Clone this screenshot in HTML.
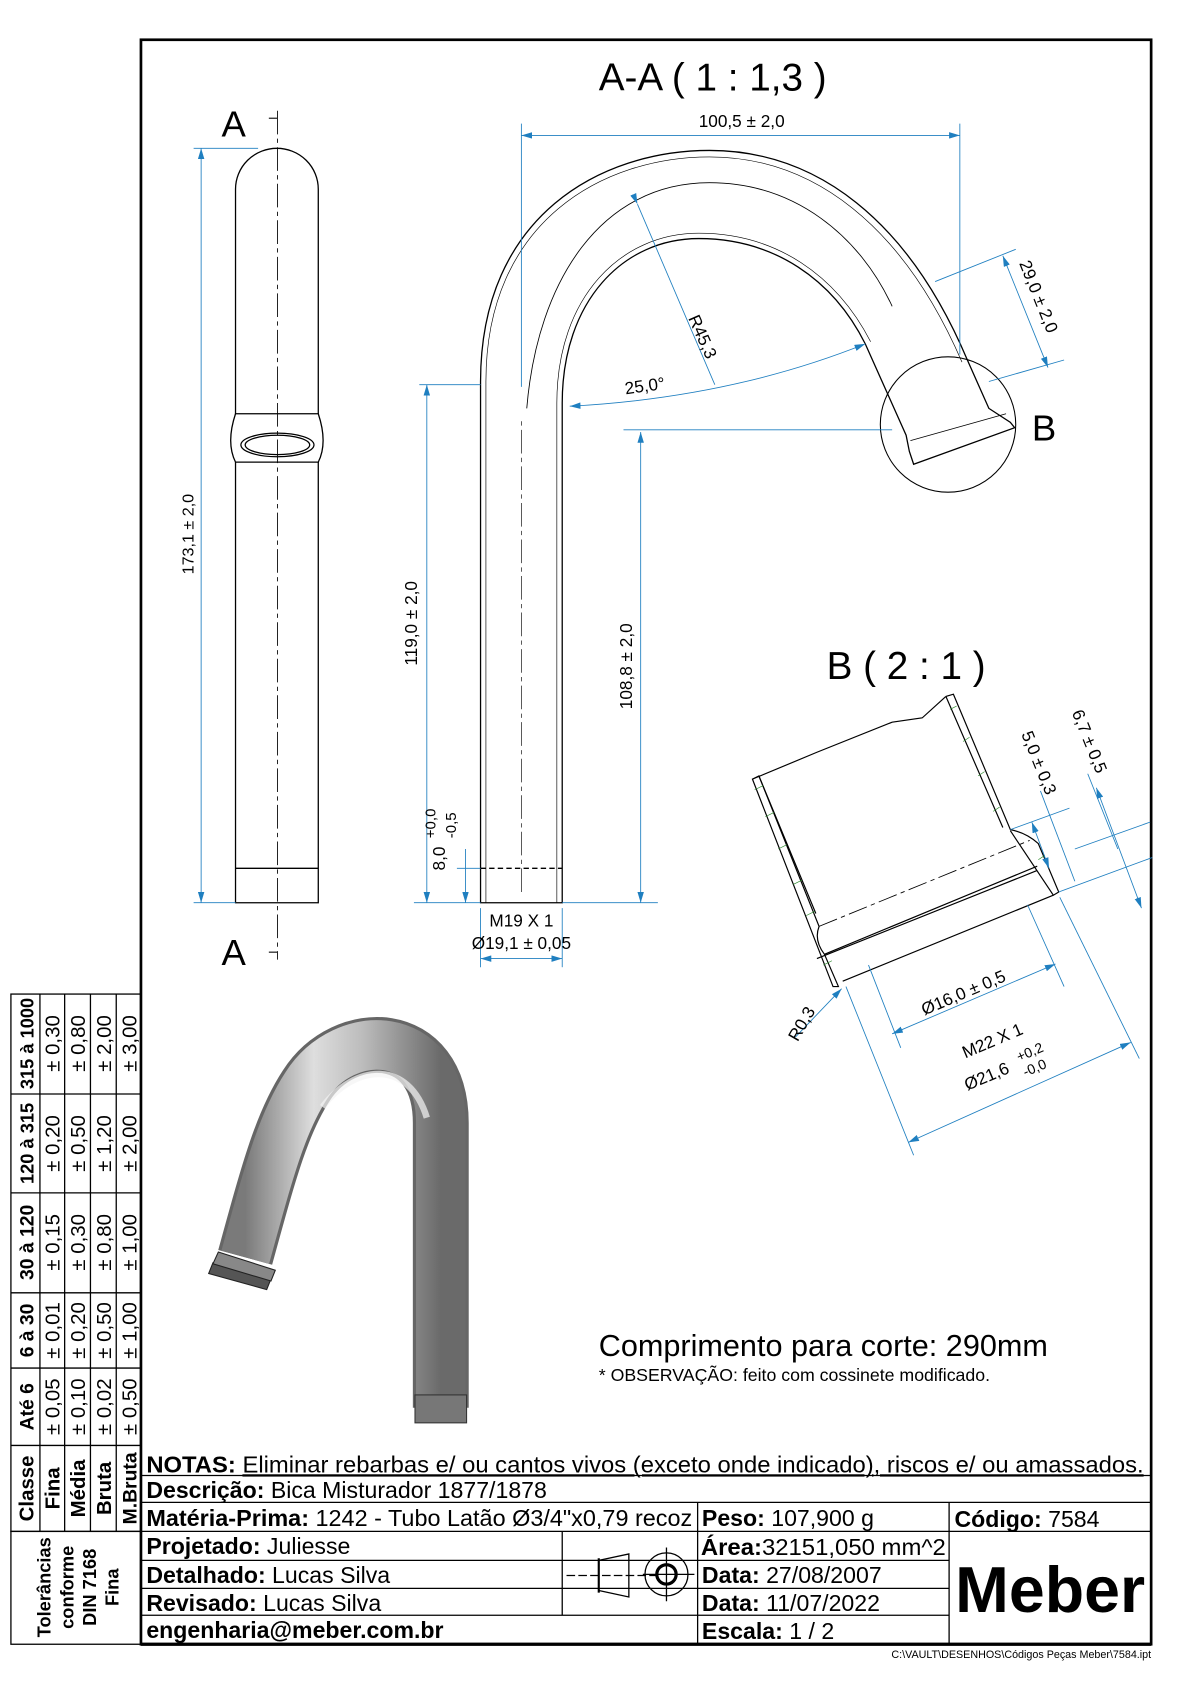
<!DOCTYPE html>
<html><head><meta charset="utf-8"><style>
html,body{margin:0;padding:0;background:#fff}
svg{display:block}
text{font-family:"Liberation Sans",Arial,sans-serif}
.b{font-weight:bold}
</style></head><body>
<svg width="1190" height="1684" viewBox="0 0 1107 1567" xmlns="http://www.w3.org/2000/svg">
<defs>
<linearGradient id="tg" x1="0" x2="1" y1="0" y2="0">
<stop offset="0" stop-color="#7a7a7a"/><stop offset="0.35" stop-color="#dedede"/><stop offset="0.6" stop-color="#bcbcbc"/><stop offset="1" stop-color="#6a6a6a"/>
</linearGradient>
<marker id="ar" markerWidth="10" markerHeight="6" refX="10" refY="3" orient="auto" markerUnits="userSpaceOnUse"><path d="M0,0 L10,3 L0,6z" fill="#1f7fc0"/></marker>
<marker id="al" markerWidth="10" markerHeight="6" refX="0" refY="3" orient="auto" markerUnits="userSpaceOnUse"><path d="M10,0 L0,3 L10,6z" fill="#1f7fc0"/></marker>
</defs>
<rect x="131" y="37" width="940" height="1493" fill="none" stroke="#000" stroke-width="2.5"/>

<g fill="none" stroke="#000" stroke-width="1.2">
<path d="M219,840 L219,176 A38.5,38 0 0 1 296,176 L296,840 Z"/>
<line x1="219" y1="808" x2="296" y2="808"/>
<path d="M219,385 Q210,412 219,430 L296,430 Q305,412 296,385 Z" fill="#fff"/>
<ellipse cx="258" cy="414" rx="34" ry="11"/>
<ellipse cx="258" cy="414" rx="30" ry="9"/>
</g>
<line x1="258" y1="103" x2="258" y2="893" stroke="#000" stroke-width="0.8" stroke-dasharray="22,4,4,4"/>
<line x1="258" y1="110" x2="250" y2="110" stroke="#000"/><line x1="258" y1="886" x2="250" y2="886" stroke="#000"/>
<text x="206" y="127" font-size="34">A</text><text x="206" y="898" font-size="34">A</text>
<g stroke="#1f7fc0" stroke-width="0.8" fill="none">
<line x1="187" y1="138" x2="187" y2="840" marker-start="url(#al)" marker-end="url(#ar)"/>
<line x1="180" y1="138" x2="240" y2="138"/><line x1="180" y1="840" x2="219" y2="840"/>
</g>
<text transform="translate(180,497) rotate(-90)" font-size="15" text-anchor="middle">173,1 ± 2,0</text>

<text x="663" y="84" font-size="36" text-anchor="middle">A-A ( 1 : 1,3 )</text>
<g fill="none" stroke="#000" stroke-width="1.2">
<path d="M447,840 L447,355 C447,200 560,140 660,140 C760,140 845,205 900,335 L920,380 L940,393 L944,398 L850,432 L846,420 L843,405 L805,320 C775,260 720,222 650,222 C580,222 523,280 523,375 L523,840 Z"/>
<path d="M452,840 L452,355 C452,205 562,146 660,146 C757,146 840,210 895,337" stroke-width="0.6"/>
<path d="M518,840 L518,375 C518,276 578,217 650,217 C722,217 778,256 810,318" stroke-width="0.6"/>
<line x1="447" y1="808" x2="523" y2="808" stroke-dasharray="5,3"/>
<path d="M490,380 C500,260 560,170 660,170 C740,170 800,220 830,285" stroke-width="0.8"/>
<line x1="847" y1="410" x2="936" y2="385" stroke-width="0.8"/>
</g>
<line x1="485" y1="830" x2="485" y2="390" stroke="#000" stroke-width="0.6" stroke-dasharray="22,4,4,4"/>
<circle cx="882" cy="395" r="63" fill="none" stroke="#000" stroke-width="1"/>
<text x="960" y="410" font-size="34">B</text>
<g stroke="#1f7fc0" stroke-width="0.8" fill="none">
<line x1="485" y1="126" x2="893" y2="126" marker-start="url(#al)" marker-end="url(#ar)"/>
<line x1="485" y1="115" x2="485" y2="360"/><line x1="893" y1="115" x2="893" y2="330"/>
<line x1="397" y1="358" x2="397" y2="840" marker-start="url(#al)" marker-end="url(#ar)"/>
<line x1="390" y1="358" x2="447" y2="358"/><line x1="385" y1="840" x2="447" y2="840"/>
<line x1="596" y1="402" x2="596" y2="840" marker-start="url(#al)" marker-end="url(#ar)"/>
<line x1="580" y1="400" x2="830" y2="400"/><line x1="523" y1="840" x2="612" y2="840"/>
<line x1="433" y1="790" x2="433" y2="840" marker-end="url(#ar)"/>
<line x1="425" y1="808" x2="447" y2="808"/>
<line x1="447" y1="892" x2="523" y2="892" marker-start="url(#al)" marker-end="url(#ar)"/>
<line x1="447" y1="845" x2="447" y2="900"/><line x1="523" y1="845" x2="523" y2="900"/>
<line x1="593" y1="190" x2="665" y2="358" marker-start="url(#ar)"/>
<path d="M530,378 Q680,370 805,320" marker-start="url(#al)" marker-end="url(#ar)"/>
<line x1="933" y1="238" x2="975" y2="342" marker-start="url(#al)" marker-end="url(#ar)"/>
<line x1="870" y1="262" x2="945" y2="232"/><line x1="920" y1="355" x2="990" y2="335"/>
</g>
<text x="690" y="118" font-size="16" text-anchor="middle">100,5 ± 2,0</text>
<text transform="translate(388,580) rotate(-90)" font-size="16" text-anchor="middle">119,0 ± 2,0</text>
<text transform="translate(588,620) rotate(-90)" font-size="16" text-anchor="middle">108,8 ± 2,0</text>
<text transform="translate(414,810) rotate(-90)" font-size="16">8,0</text>
<text transform="translate(405,780) rotate(-90)" font-size="14">+0,0</text>
<text transform="translate(424,780) rotate(-90)" font-size="14">-0,5</text>
<text x="485" y="862" font-size="16" text-anchor="middle">M19 X 1</text>
<text x="485" y="883" font-size="16" text-anchor="middle">Ø19,1 ± 0,05</text>
<text transform="translate(640,296) rotate(66)" font-size="16">R45,3</text>
<text x="582" y="367" font-size="16" transform="rotate(-8,582,367)">25,0°</text>
<text transform="translate(948,245) rotate(68)" font-size="16">29,0 ± 2,0</text>

<text x="843" y="632" font-size="36" text-anchor="middle">B ( 2 : 1 )</text>
<g fill="none" stroke="#000" stroke-width="1.1">
<path d="M700,725 L760,700 L830,672 L858,668 L880,648"/>
<path d="M700,725 L706,722 L762,862 Q757,875 767,888 L780,918 L775,918 Z"/>
<path d="M880,648 L887,646 L940,772 Q955,775 966,785 L985,830 L980,833 L940,773"/>
<path d="M706,722 L759,850 M880,648 L933,770"/>
<path d="M767,888 L965,806 M784,913 L980,833"/>
<path d="M762,862 L958,782" stroke-width="0.8" stroke-dasharray="18,4,4,4"/>
<path d="M760,892 L965,810"/>
</g>
<g stroke="#2a8a2a" stroke-width="0.6">
<line x1="702" y1="735" x2="710" y2="731"/><line x1="712" y1="760" x2="720" y2="756"/><line x1="724" y1="790" x2="732" y2="786"/><line x1="738" y1="823" x2="746" y2="819"/><line x1="750" y1="852" x2="758" y2="848"/><line x1="766" y1="898" x2="774" y2="894"/>
<line x1="884" y1="660" x2="890" y2="657"/><line x1="896" y1="690" x2="902" y2="686"/><line x1="910" y1="722" x2="916" y2="718"/><line x1="924" y1="755" x2="930" y2="751"/><line x1="966" y1="800" x2="972" y2="796"/>
</g>
<g stroke="#1f7fc0" stroke-width="0.8" fill="none">
<line x1="830" y1="962" x2="982" y2="897" marker-start="url(#al)" marker-end="url(#ar)"/>
<line x1="808" y1="898" x2="838" y2="975"/><line x1="956" y1="842" x2="990" y2="918"/>
<line x1="845" y1="1063" x2="1052" y2="970" marker-start="url(#al)" marker-end="url(#ar)"/>
<line x1="787" y1="918" x2="850" y2="1075"/><line x1="986" y1="835" x2="1060" y2="985"/>
<line x1="1020" y1="733" x2="1062" y2="845" marker-start="url(#al)" marker-end="url(#ar)"/>
<line x1="1000" y1="790" x2="1070" y2="765"/><line x1="985" y1="830" x2="1072" y2="798"/>
<line x1="960" y1="765" x2="976" y2="808" marker-start="url(#al)" marker-end="url(#ar)"/>
<line x1="940" y1="772" x2="995" y2="752"/>
<line x1="968" y1="736" x2="1000" y2="820"/><line x1="1012" y1="720" x2="1040" y2="790"/>
<line x1="740" y1="965" x2="783" y2="920" marker-end="url(#ar)"/>
</g>
<text transform="translate(860,945) rotate(-23)" font-size="16">Ø16,0 ± 0,5</text>
<text transform="translate(898,985) rotate(-23)" font-size="16">M22 X 1</text>
<text transform="translate(900,1015) rotate(-23)" font-size="16">Ø21,6</text>
<text transform="translate(948,988) rotate(-23)" font-size="13">+0,2</text>
<text transform="translate(954,1002) rotate(-23)" font-size="13">-0,0</text>
<text transform="translate(950,683) rotate(68)" font-size="16">5,0 ± 0,3</text>
<text transform="translate(997,663) rotate(68)" font-size="16">6,7 ± 0,5</text>
<text transform="translate(742,970) rotate(-60)" font-size="16">R0,3</text>

<path d="M410,1310 L410,1045 C410,955 320,955 285,1010 C262,1045 250,1090 228,1170" fill="none" stroke="#666" stroke-width="52"/>
<path d="M410,1310 L410,1045 C410,955 320,955 285,1010 C262,1045 250,1090 228,1170" fill="none" stroke="url(#tg)" stroke-width="46"/>
<path d="M397,1040 C380,985 330,990 300,1030" fill="none" stroke="#f4f4f4" stroke-width="6" opacity="0.7"/>
<rect x="386" y="1298" width="48" height="26" fill="#777" stroke="#333"/>
<path d="M198,1175 L252,1190 L248,1200 L194,1185 Z" fill="#555" stroke="#222"/>
<path d="M203,1165 L256,1182 L252,1192 L198,1176 Z" fill="#888" stroke="#222"/>

<text x="557" y="1262" font-size="28.5">Comprimento para corte: 290mm</text>
<text x="557" y="1285" font-size="16.5">* OBSERVAÇÃO: feito com cossinete modificado.</text>

<g fill="none" stroke="#000" stroke-width="1.2">
<rect x="10" y="925" width="121" height="500"/>
<rect x="10" y="1425" width="121" height="105"/>
<line x1="37" y1="925" x2="37" y2="1425"/><line x1="60" y1="925" x2="60" y2="1425"/><line x1="84" y1="925" x2="84" y2="1425"/><line x1="108" y1="925" x2="108" y2="1425"/>
<line x1="10" y1="1018" x2="131" y2="1018"/><line x1="10" y1="1110" x2="131" y2="1110"/><line x1="10" y1="1203" x2="131" y2="1203"/><line x1="10" y1="1273" x2="131" y2="1273"/><line x1="10" y1="1345" x2="131" y2="1345"/>
</g>
<g font-size="19">
<text transform="translate(31,971) rotate(-90)" class="b" font-size="17" text-anchor="middle">315 à 1000</text>
<text transform="translate(31,1064) rotate(-90)" class="b" font-size="17" text-anchor="middle">120 à 315</text>
<text transform="translate(31,1156) rotate(-90)" class="b" font-size="18" text-anchor="middle">30 à 120</text>
<text transform="translate(31,1238) rotate(-90)" class="b" font-size="18" text-anchor="middle">6 à 30</text>
<text transform="translate(31,1309) rotate(-90)" class="b" font-size="18" text-anchor="middle">Até 6</text>
<text transform="translate(31,1385) rotate(-90)" class="b" font-size="19" text-anchor="middle">Classe</text>
<text transform="translate(55,1385) rotate(-90)" class="b" text-anchor="middle">Fina</text>
<text transform="translate(79,1385) rotate(-90)" class="b" text-anchor="middle">Média</text>
<text transform="translate(103,1385) rotate(-90)" class="b" text-anchor="middle">Bruta</text>
<text transform="translate(127,1385) rotate(-90)" class="b" font-size="18" text-anchor="middle">M.Bruta</text>
</g>
<g font-size="19" text-anchor="middle">
<text transform="translate(55,971) rotate(-90)">± 0,30</text><text transform="translate(79,971) rotate(-90)">± 0,80</text><text transform="translate(103,971) rotate(-90)">± 2,00</text><text transform="translate(127,971) rotate(-90)">± 3,00</text>
<text transform="translate(55,1064) rotate(-90)">± 0,20</text><text transform="translate(79,1064) rotate(-90)">± 0,50</text><text transform="translate(103,1064) rotate(-90)">± 1,20</text><text transform="translate(127,1064) rotate(-90)">± 2,00</text>
<text transform="translate(55,1156) rotate(-90)">± 0,15</text><text transform="translate(79,1156) rotate(-90)">± 0,30</text><text transform="translate(103,1156) rotate(-90)">± 0,80</text><text transform="translate(127,1156) rotate(-90)">± 1,00</text>
<text transform="translate(55,1238) rotate(-90)">± 0,01</text><text transform="translate(79,1238) rotate(-90)">± 0,20</text><text transform="translate(103,1238) rotate(-90)">± 0,50</text><text transform="translate(127,1238) rotate(-90)">± 1,00</text>
<text transform="translate(55,1309) rotate(-90)">± 0,05</text><text transform="translate(79,1309) rotate(-90)">± 0,10</text><text transform="translate(103,1309) rotate(-90)">± 0,02</text><text transform="translate(127,1309) rotate(-90)">± 0,50</text>
</g>
<g class="b" font-size="17" text-anchor="middle">
<text transform="translate(47,1477) rotate(-90)">Tolerâncias</text>
<text transform="translate(68,1477) rotate(-90)">conforme</text>
<text transform="translate(89,1477) rotate(-90)">DIN 7168</text>
<text transform="translate(110,1477) rotate(-90)">Fina</text>
</g>

<g fill="none" stroke="#000" stroke-width="1.2">
<line x1="131" y1="1373" x2="1071" y2="1373"/><line x1="131" y1="1398" x2="1071" y2="1398"/><line x1="131" y1="1425" x2="1071" y2="1425"/>
<line x1="131" y1="1452" x2="883" y2="1452"/><line x1="131" y1="1478" x2="883" y2="1478"/><line x1="131" y1="1503" x2="883" y2="1503"/>
<line x1="649" y1="1398" x2="649" y2="1530"/><line x1="883" y1="1398" x2="883" y2="1530"/><line x1="523" y1="1425" x2="523" y2="1503"/>
<path d="M557,1452 L585,1446 L585,1486 L557,1480 Z"/>
<line x1="557" y1="1450" x2="557" y2="1482" stroke-width="2"/>
<line x1="527" y1="1466" x2="615" y2="1466" stroke-dasharray="8,3"/>
<circle cx="620" cy="1465" r="20"/><circle cx="620" cy="1465" r="9" stroke-width="3"/>
<line x1="620" y1="1440" x2="620" y2="1490"/><line x1="598" y1="1465" x2="646" y2="1465"/>
</g>
<line x1="131" y1="1530" x2="1071" y2="1530" stroke="#000" stroke-width="3"/>
<g font-size="21.5">
<text x="136" y="1370" textLength="928" lengthAdjust="spacingAndGlyphs"><tspan class="b">NOTAS:</tspan> <tspan text-decoration="underline">Eliminar rebarbas e/ ou cantos vivos (exceto onde indicado), riscos e/ ou amassados.</tspan></text>
<text x="136" y="1394"><tspan class="b">Descrição:</tspan> Bica Misturador 1877/1878</text>
<text x="136" y="1420" textLength="508" lengthAdjust="spacingAndGlyphs"><tspan class="b">Matéria-Prima:</tspan> 1242 - Tubo Latão Ø3/4"x0,79 recoz</text>
<text x="653" y="1420"><tspan class="b">Peso:</tspan> 107,900 g</text>
<text x="888" y="1421"><tspan class="b">Código:</tspan> 7584</text>
<text x="136" y="1446"><tspan class="b">Projetado:</tspan> Juliesse</text>
<text x="136" y="1473"><tspan class="b">Detalhado:</tspan> Lucas Silva</text>
<text x="136" y="1499"><tspan class="b">Revisado:</tspan> Lucas Silva</text>
<text x="136" y="1524" class="b">engenharia@meber.com.br</text>
<text x="652" y="1447" textLength="228" lengthAdjust="spacingAndGlyphs"><tspan class="b">Área:</tspan>32151,050 mm^2</text>
<text x="653" y="1473"><tspan class="b">Data:</tspan> 27/08/2007</text>
<text x="653" y="1499"><tspan class="b">Data:</tspan> 11/07/2022</text>
<text x="653" y="1525"><tspan class="b">Escala:</tspan> 1 / 2</text>
</g>
<text x="977" y="1500" font-size="60" class="b" text-anchor="middle">Meber</text>
<text x="1071" y="1543" font-size="10" text-anchor="end">C:\VAULT\DESENHOS\Códigos Peças Meber\7584.ipt</text>
</svg>
</body></html>
